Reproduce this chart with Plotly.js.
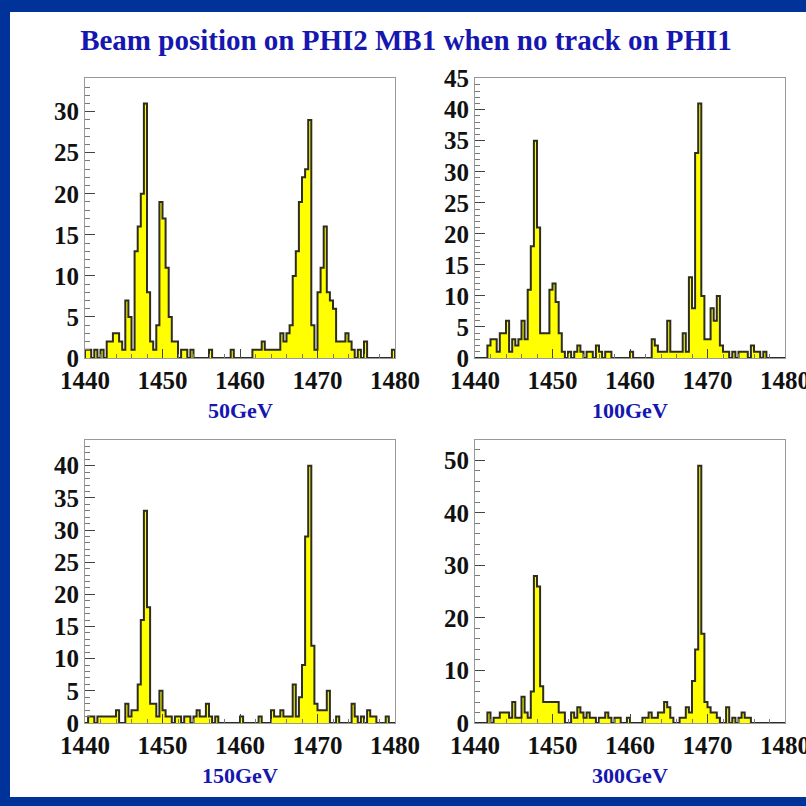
<!DOCTYPE html>
<html><head><meta charset="utf-8">
<script src="https://cdn.plot.ly/plotly-3.0.1.min.js"></script>
<style>html,body{margin:0;padding:0;background:#003399;overflow:hidden;} #chart{width:806px;height:806px;}</style>
</head><body><div id="chart"></div>
<script>
const binStart = 1440;
const binWidth = 0.4;
const chartTitle = 'Beam position on PHI2 MB1 when no track on PHI1';
const panelLabels = ['50GeV', '100GeV', '150GeV', '300GeV'];
const xTicks = [1440, 1450, 1460, 1470, 1480];

const counts50 = [
  1,1,0,1,0,1,0,2,2,3,
  3,2,1,7,5,1,13,16,20,31,
  8,2,1,4,19,17,11,5,2,2,
  0,1,1,0,1,0,0,0,0,0,
  1,0,0,0,0,0,0,1,0,0,
  0,0,0,0,1,1,1,2,1,1,
  1,1,1,3,2,3,4,10,13,19,
  22,23,29,4,1,8,11,16,8,7,
  6,2,2,2,3,2,1,0,1,0,
  2,0,0,0,0,0,0,0,0,1];
const counts100 = [
  0,0,0,0,2,3,3,1,4,4,
  6,1,3,2,3,6,3,11,18,35,
  21,4,4,4,11,12,9,4,1,0,
  1,0,1,2,1,0,1,1,0,2,
  1,0,1,1,0,0,0,0,0,0,
  1,0,0,0,0,0,0,3,2,1,
  1,1,6,1,1,1,1,4,1,13,
  8,33,41,10,3,3,8,6,10,2,
  1,1,0,1,0,1,1,1,0,2,
  1,1,0,1,0,0,0,0,0,0];
const counts150 = [
  0,1,1,0,1,1,1,1,1,1,
  2,0,0,3,1,2,2,6,16,33,
  18,3,3,1,5,2,1,1,0,1,
  1,0,1,1,0,1,2,1,1,3,
  1,0,1,0,0,0,0,0,0,0,
  1,0,0,0,0,0,1,0,0,0,
  2,1,1,2,1,1,1,6,1,4,
  9,29,40,12,3,2,2,2,5,0,
  0,1,0,0,0,0,3,1,0,1,
  0,2,1,1,0,0,0,1,0,0];
const counts300 = [
  0,0,0,0,2,0,1,1,2,2,
  2,1,4,1,1,5,2,1,6,28,
  26,7,4,4,4,4,4,2,2,0,
  0,2,1,3,2,1,2,1,1,0,
  1,1,2,1,0,1,1,0,0,1,
  0,0,0,0,1,1,2,1,1,2,
  2,4,3,1,0,0,1,1,3,2,
  8,14,49,17,4,3,2,2,1,0,
  0,3,0,1,0,1,2,1,1,0,
  0,0,0,0,0,0,0,0,0,0];

const allCounts = [counts50, counts100, counts150, counts300];
const yDticks = [5, 5, 5, 10];
const yMinor = [1, 1, 1, 2];

const W = 806, H = 806;
const px = v => v / W, py = v => 1 - v / H;
const xDom = [[px(85), px(395)], [px(475), px(785)]];
const yDom = [[py(358), py(78)], [py(723), py(440)]];

const serif = '"Liberation Serif", "Times New Roman", serif';
const tickFont = {family: serif, size: 25, color: '#111', weight: 700};
const traces = [];
const layout = {
  width: W, height: H,
  margin: {l: 0, r: 0, t: 0, b: 0},
  paper_bgcolor: '#003399',
  plot_bgcolor: '#ffffff',
  showlegend: false,
  title: {text: chartTitle, x: 406 / W, y: py(40), xanchor: 'center', yanchor: 'middle',
          xref: 'paper', yref: 'paper',
          font: {family: serif, size: 29, color: '#1616b0', weight: 700}},
  shapes: [{type: 'rect', xref: 'paper', yref: 'paper', x0: px(10), x1: 1, y0: py(797), y1: py(12),
            fillcolor: '#ffffff', line: {width: 0}, layer: 'below'}],
  annotations: []
};

allCounts.forEach((counts, p) => {
  const col = p % 2, row = Math.floor(p / 2);
  const xs = [binStart], ys = [0];
  counts.forEach((c, i) => { xs.push(binStart + i * binWidth); ys.push(c); });
  const xEnd = binStart + counts.length * binWidth;
  xs.push(xEnd); ys.push(counts[counts.length - 1]);
  xs.push(xEnd); ys.push(0);
  const n = p === 0 ? '' : String(p + 1);
  traces.push({
    type: 'scatter', mode: 'lines', x: xs, y: ys,
    xaxis: 'x' + n, yaxis: 'y' + n,
    line: {shape: 'hv', color: '#2d2d22', width: 2},
    fill: 'tozeroy', fillcolor: '#ffff00', hoverinfo: 'skip'
  });
  const yTop = Math.max(...counts) * 1.1;
  // right-column panels: the last x label runs off the page edge, drawn as an annotation
  const shownTicks = col === 1 ? xTicks.slice(0, -1) : xTicks;
  layout['xaxis' + n] = {
    domain: xDom[col], anchor: 'y' + n, range: [binStart, xEnd],
    tickvals: shownTicks, ticks: 'inside', ticklen: 9, tickcolor: '#444',
    minor: {dtick: 2, ticks: 'inside', ticklen: 4, tickcolor: '#777'},
    showgrid: false, zeroline: false, showline: true, mirror: true,
    linecolor: '#999', linewidth: 1, tickfont: tickFont
  };
  layout['yaxis' + n] = {
    domain: yDom[row], anchor: 'x' + n, range: [0, yTop],
    dtick: yDticks[p], tick0: 0, ticks: 'inside', ticklen: 10, tickcolor: '#444',
    minor: {dtick: yMinor[p], ticks: 'inside', ticklen: 5, tickcolor: '#777'},
    showgrid: false, zeroline: false, showline: true, mirror: true,
    linecolor: '#999', linewidth: 1, tickfont: tickFont
  };
  if (col === 1) {
    layout.annotations.push({
      text: String(xTicks[xTicks.length - 1]), xref: 'x' + n, yref: 'paper',
      x: xTicks[xTicks.length - 1], y: yDom[row][0], yanchor: 'top', xanchor: 'center',
      yshift: -7, showarrow: false, font: tickFont
    });
  }
  layout.annotations.push({
    text: panelLabels[p], xref: 'paper', yref: 'paper',
    x: (xDom[col][0] + xDom[col][1]) / 2, y: row === 0 ? py(410) : py(775),
    xanchor: 'center', yanchor: 'middle', showarrow: false,
    font: {family: serif, size: 22, color: '#1616b0', weight: 700}
  });
});

Plotly.newPlot('chart', traces, layout, {displayModeBar: false, staticPlot: true});
</script>
</body></html>
